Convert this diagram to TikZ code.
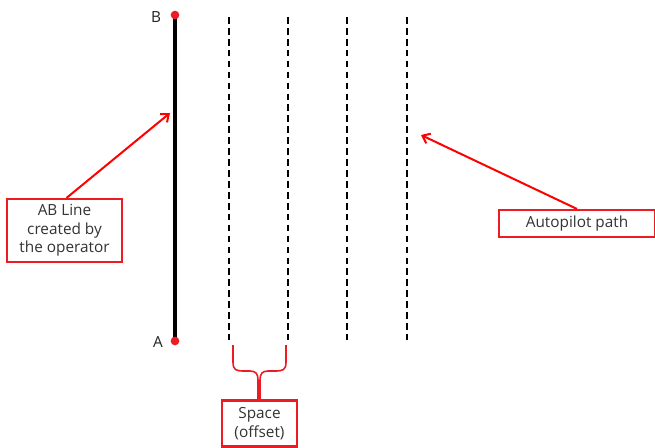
\documentclass[tikz,border=0pt]{standalone}
\usepackage{fontspec}
\setmainfont{Open Sans}
\usetikzlibrary{arrows.meta}

\tikzset{
  redbox/.style={draw={rgb,255:red,237;green,28;blue,36}, line width=1.8, fill=white, align=center, text={rgb,255:red,51;green,51;blue,51}, font=\fontsize{11.5}{14}\selectfont, inner sep=0},
  redarrow/.style={draw={rgb,255:red,255;green,0;blue,0}, line width=1.5, -{Straight Barb[length=5pt,width=8pt]}},
  pathline/.style={line width=2.1, dash pattern={on 5pt off 3.2pt}},
  endpt/.style={circle, fill={rgb,255:red,237;green,28;blue,36}, inner sep=0, minimum size=6.5pt},
  ptlabel/.style={font=\fontsize{11.5}{14}\selectfont, text={rgb,255:red,34;green,34;blue,34}}
}

\begin{document}
\begin{tikzpicture}[x=0.75pt,y=0.75pt,yscale=-1,xscale=1]
\useasboundingbox (0,0) rectangle (655,448);

% AB line
\coordinate (posB) at (175,15);
\coordinate (posA) at (175,341);
\draw [line width=2.4] (posB) -- (posA);
\node [endpt] (ptB) at (posB) {};
\node [endpt] (ptA) at (posA) {};
\node [ptlabel] (lblB) at (156,17) {B};
\node [ptlabel] (lblA) at (158,342) {A};

% autopilot passes
\foreach \x/\n in {229/1,288/2,347/3,407/4} {
  \coordinate (top\n) at (\x,17);
  \coordinate (bot\n) at (\x,340);
  \draw [pathline] (top\n) -- (bot\n);
}

% Text Node
\node [redbox, minimum width=86pt, minimum height=47pt] (abbox) at (64.5,230.5) {AB Line\\created by\\the operator};
% Text Node
\node [redbox, minimum width=117pt, minimum height=20pt] (pathbox) at (577,223.5) {Autopilot path};
% Text Node
\node [redbox, minimum width=56pt, minimum height=34.5pt] (offbox) at (259.5,423.5) {Space\\(offset)};

% callouts
\coordinate (abtip) at (170,113);
\coordinate (pathtip) at (421,135);
\draw [redarrow] (abbox.north) ++(2,0) -- (abtip);
\draw [redarrow] (pathbox.north) -- (pathtip);

% brace
\draw [draw={rgb,255:red,237;green,28;blue,36}, line width=1.2]
  (233,345) -- (233,362) .. controls (233,370) and (236,371) .. (244,371)
  -- (250,371) .. controls (256,371) and (258,374) .. (258,380) -- (258,399)
  (286,345) -- (286,362) .. controls (286,370) and (283,371) .. (275,371)
  -- (268,371) .. controls (262,371) and (260,374) .. (260,380) -- (260,399);

\end{tikzpicture}
\end{document}
